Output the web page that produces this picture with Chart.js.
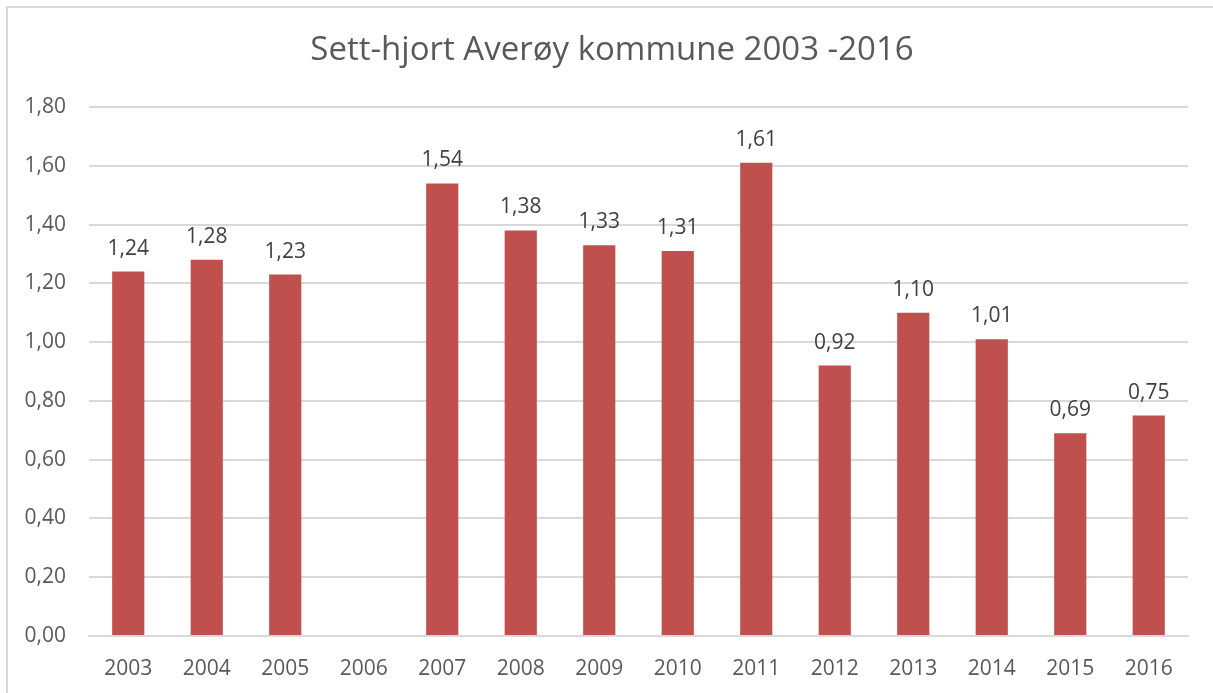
<!DOCTYPE html>
<html>
<head>
<meta charset="utf-8">
<script src="https://cdn.jsdelivr.net/npm/chart.js@4/dist/chart.umd.min.js"></script>
<style>
  html, body { margin: 0; padding: 0; background: #fff; }
  #wrap { position: absolute; left: 0; top: 0; width: 1213px; height: 693px; }
</style>
</head>
<body>
<div id="wrap"><canvas id="chart" width="1213" height="693"></canvas></div>
<script>
const years = ['2003', '2004', '2005', '2006', '2007', '2008', '2009', '2010', '2011', '2012', '2013', '2014', '2015', '2016'];
const settHjort = [1.24, 1.28, 1.23, null, 1.54, 1.38, 1.33, 1.31, 1.61, 0.92, 1.10, 1.01, 0.69, 0.75];
const titleText = 'Sett-hjort Averøy kommune 2003 -2016';

const FONT = "'Open Sans', sans-serif";
const fmt = (v) => Number(v).toFixed(2).replace('.', ',');

// frame + title + value labels, drawn by hand like the spreadsheet export
const extras = {
  id: 'extras',
  beforeDraw(chart) {
    const ctx = chart.ctx;
    ctx.save();
    ctx.strokeStyle = '#d9d9d9';
    ctx.lineWidth = 2;
    ctx.beginPath();
    ctx.moveTo(7, 700);
    ctx.lineTo(7, 7);
    ctx.lineTo(1220, 7);
    ctx.stroke();
    ctx.restore();
  },
  afterDatasetsDraw(chart) {
    const ctx = chart.ctx;
    ctx.save();
    ctx.fillStyle = '#595959';
    ctx.font = '33px ' + FONT;
    ctx.textAlign = 'center';
    ctx.textBaseline = 'middle';
    ctx.fillText(titleText, 612, 51);

    ctx.fillStyle = '#404040';
    ctx.font = '21px ' + FONT;
    const meta = chart.getDatasetMeta(0);
    meta.data.forEach((bar, i) => {
      const v = settHjort[i];
      if (v === null) return;
      ctx.fillText(fmt(v), bar.x, bar.y - 23);
    });
    ctx.restore();
  }
};

new Chart(document.getElementById('chart'), {
  type: 'bar',
  data: {
    labels: years,
    datasets: [{
      data: settHjort,
      backgroundColor: '#c0504d',
      barPercentage: 0.41,
      categoryPercentage: 1.0
    }]
  },
  options: {
    responsive: false,
    animation: false,
    layout: { padding: { left: 0, right: 25, top: 107, bottom: 0 } },
    plugins: {
      legend: { display: false },
      title: { display: false },
      tooltip: { enabled: false }
    },
    scales: {
      x: {
        grid: { display: false },
        border: { display: true, color: '#d9d9d9', width: 2 },
        ticks: { color: '#595959', font: { family: FONT, size: 21 }, padding: 12, maxRotation: 0 },
        afterFit(scale) { scale.height = 57; }
      },
      y: {
        min: 0,
        max: 1.8,
        ticks: {
          stepSize: 0.2,
          color: '#595959',
          font: { family: FONT, size: 21 },
          padding: 23,
          callback: (v) => fmt(v)
        },
        grid: { color: '#d9d9d9', lineWidth: 2, drawTicks: false },
        border: { display: false },
        afterFit(scale) { scale.width = 89; }
      }
    }
  },
  plugins: [extras]
});
</script>
</body>
</html>
